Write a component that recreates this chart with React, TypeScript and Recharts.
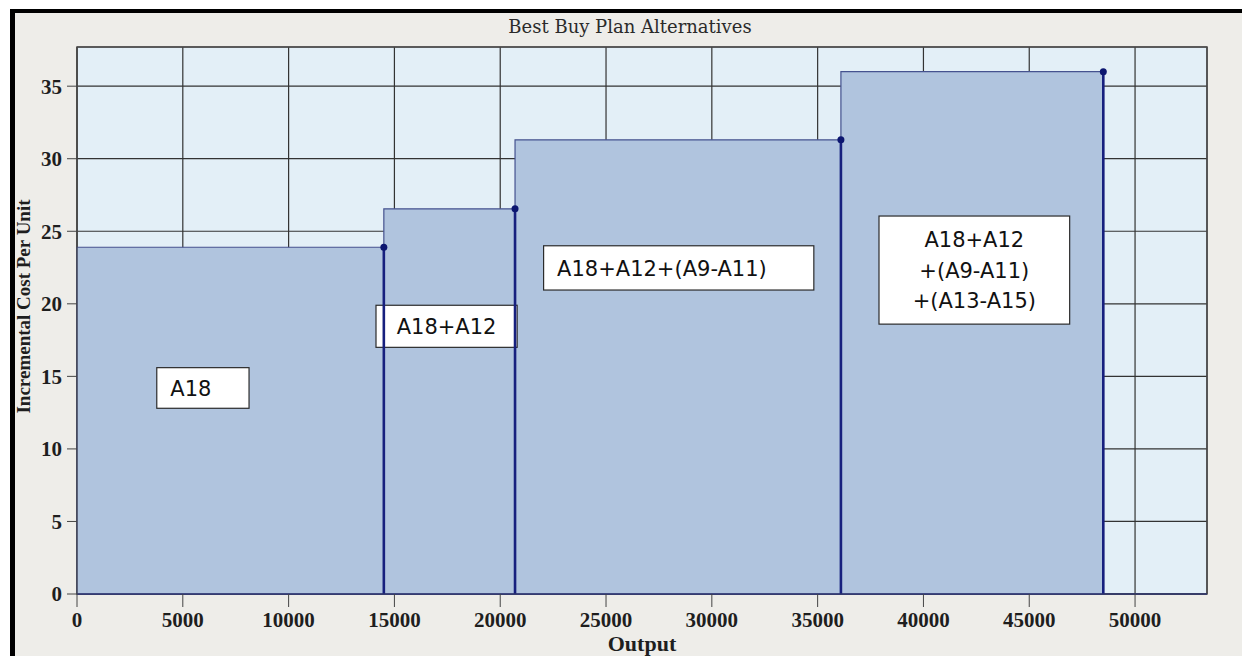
import {
  ComposedChart,
  XAxis,
  YAxis,
  CartesianGrid,
  ReferenceArea,
  ReferenceLine,
  Scatter,
} from "recharts";

// step boundaries along the output axis and the cost level of each step
const outputBreaks = [0, 14500, 20700, 36100, 48500];
const incrementalCost = [23.9, 26.55, 31.3, 36.0];
const planNames = [
  ["A18"],
  ["A18+A12"],
  ["A18+A12+(A9-A11)"],
  ["A18+A12", "+(A9-A11)", "+(A13-A15)"],
];
const xTicks = [0, 5000, 10000, 15000, 20000, 25000, 30000, 35000, 40000, 45000, 50000];
const yTicks = [0, 5, 10, 15, 20, 25, 30, 35];

// where the annotation boxes sit, in axis units
const boxX = [
  [3770, 8130],
  [14130, 20800],
  [22050, 34820],
  [37900, 46910],
];
const boxY = [
  [12.8, 15.6],
  [17.0, 19.9],
  [20.95, 24.0],
  [18.6, 26.05],
];
const boxAlign = ["start", "middle", "start", "middle"];

const X_MAX = 53400;
const Y_MAX = 37.7;

const corners = outputBreaks.slice(1).map((x, i) => ({ x, y: incrementalCost[i] }));

const axisFont = {
  fontFamily: "'Liberation Serif', serif",
  fontWeight: "bold" as const,
  fontSize: 21,
  fill: "#1e1e1e",
};

const makeBoxShape = (lines: string[], align: string) => (p: any) => {
  const { x, y, width, height } = p;
  const lineH = 30.5;
  const cy = y + height / 2;
  const first = cy - ((lines.length - 1) * lineH) / 2;
  const tx = align === "start" ? x + 13.5 : x + width / 2;
  return (
    <g>
      <rect x={x} y={y} width={width} height={height} fill="#ffffff" stroke="#2b2b2b" strokeWidth={1.2} />
      {lines.map((t, k) => (
        <text
          key={k}
          x={tx}
          y={first + k * lineH + 7.7}
          textAnchor={align}
          fontFamily="'DejaVu Sans', sans-serif"
          fontSize={21}
          fill="#111"
        >
          {t}
        </text>
      ))}
    </g>
  );
};

const YLabel = (props: any) => {
  const vb = props.viewBox || { x: 0, y: 47, height: 547 };
  const cx = 23;
  const cy = vb.y + vb.height / 2 - 14;
  return (
    <text
      x={cx}
      y={cy}
      transform={`rotate(-90, ${cx}, ${cy})`}
      textAnchor="middle"
      dominantBaseline="central"
      {...axisFont}
      fontSize={19}
    >
      Incremental Cost Per Unit
    </text>
  );
};

export default function App() {
  return (
    <div style={{ position: "absolute", left: 0, top: 0, width: 1242, height: 656, background: "#ffffff", overflow: "hidden" }}>
      <div
        style={{
          position: "absolute",
          left: 10,
          top: 9,
          right: 0,
          bottom: 0,
          borderLeft: "5px solid #000",
          borderTop: "4px solid #000",
          background: "#EEEDE9",
        }}
      />
      <div
        style={{
          position: "absolute",
          left: 0,
          top: 17,
          width: 1260,
          textAlign: "center",
          fontFamily: "'DejaVu Serif', serif",
          fontSize: 18,
          color: "#2a2a2a",
          lineHeight: "20px",
        }}
      >
        Best Buy Plan Alternatives
      </div>
      <div style={{ position: "absolute", left: 0, top: 0 }}>
        <ComposedChart
          width={1242}
          height={656}
          margin={{ top: 47, right: 35, left: 0, bottom: 0 }}
        >
          <CartesianGrid
            stroke="#333333"
            strokeWidth={1.2}
            fill="#E3EFF7"
            fillOpacity={1}
          />
          <XAxis
            type="number"
            dataKey="x"
            domain={[0, X_MAX]}
            ticks={xTicks}
            interval={0}
            height={62}
            tickSize={13}
            tickMargin={5}
            tick={axisFont}
            tickLine={{ stroke: "#444" }}
            axisLine={{ stroke: "#2c336e", strokeWidth: 1.5 }}
            label={{ value: "Output", position: "insideBottom", offset: 5, ...axisFont, fontSize: 22 }}
          />
          <YAxis
            type="number"
            dataKey="y"
            domain={[0, Y_MAX]}
            ticks={yTicks}
            interval={0}
            width={77}
            tickSize={10}
            tickMargin={5}
            tick={axisFont}
            tickLine={{ stroke: "#444" }}
            axisLine={{ stroke: "#444" }}
            label={<YLabel />}
          />
          <ReferenceArea x1={0} x2={X_MAX} y1={0} y2={Y_MAX} fill="none" stroke="#4a4a4a" strokeWidth={1.5} />
          {incrementalCost.map((c, i) => (
            <ReferenceArea
              key={`step-${i}`}
              x1={outputBreaks[i]}
              x2={outputBreaks[i + 1]}
              y1={0}
              y2={c}
              fill="#B0C4DE"
              fillOpacity={1}
              stroke="#45528f"
              strokeWidth={1.2}
            />
          ))}
          {incrementalCost.map((c, i) => (
            <ReferenceLine
              key={`edge-${i}`}
              segment={[
                { x: outputBreaks[i + 1], y: 0 },
                { x: outputBreaks[i + 1], y: c },
              ]}
              stroke="#17207e"
              strokeWidth={2.6}
            />
          ))}
          {planNames.map((lines, i) => (
            <ReferenceArea
              key={`box-${i}`}
              x1={boxX[i][0]}
              x2={boxX[i][1]}
              y1={boxY[i][0]}
              y2={boxY[i][1]}
              shape={makeBoxShape(lines, boxAlign[i])}
            />
          ))}
          <Scatter
            data={corners}
            dataKey="y"
            fill="#0c1670"
            isAnimationActive={false}
            shape={(p: any) => <circle cx={p.cx} cy={p.cy} r={3.5} fill="#0c1670" />}
          />
        </ComposedChart>
      </div>
    </div>
  );
}
